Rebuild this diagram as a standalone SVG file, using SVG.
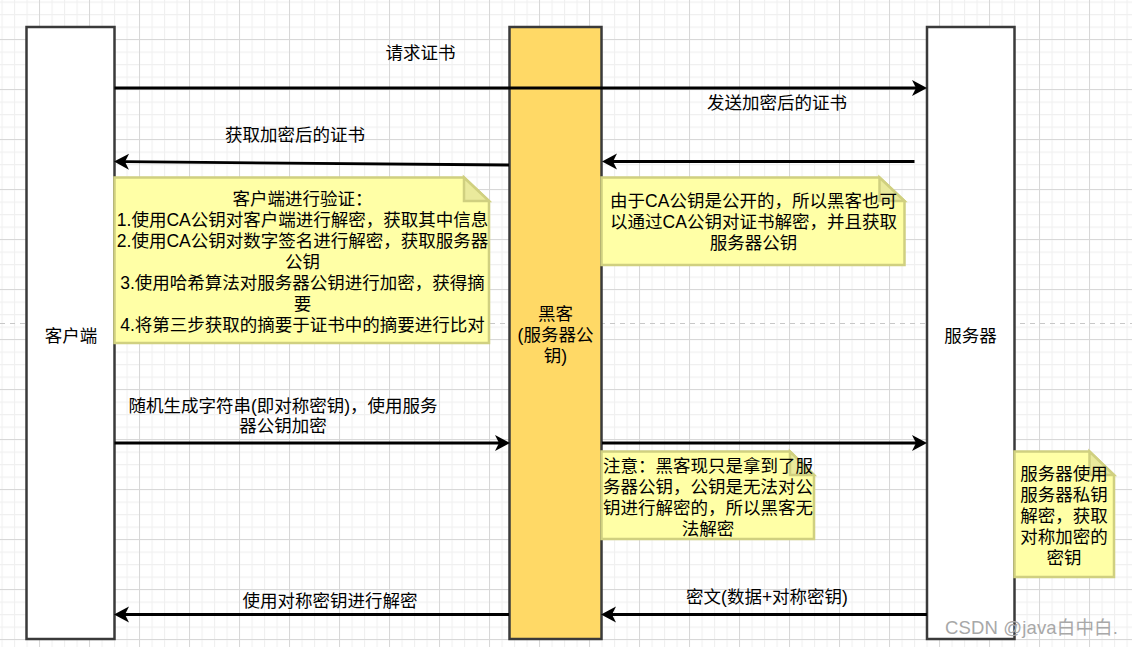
<svg xmlns="http://www.w3.org/2000/svg" width="1132" height="647" viewBox="0 0 1132 647">
<style>
text{font-family:"Liberation Sans","Noto Sans CJK SC",sans-serif;font-size:17.5px;fill:#000;text-anchor:middle}
.life{stroke:#3a3a3a;stroke-width:2.5;fill:#fff}
.hack{fill:#ffd966}
.note{fill:#ffffa6;stroke:#d0d080;stroke-width:2.5;stroke-linejoin:miter}
.fold{fill:#eaea9c;stroke:#d0d080;stroke-width:2.5}
.conn{fill:none;stroke:#000;stroke-width:2.8;marker-end:url(#arrow)}
.wm{font-size:18.5px;fill:#a8a8a8;text-anchor:start;letter-spacing:.15px}
</style>
<defs>
<pattern id="minor" width="12.5" height="12.5" patternUnits="userSpaceOnUse" x="1.5" y="1.5">
<path d="M.5 0V12.5M0 .5H12.5" fill="none" stroke="#f0f0f0" stroke-width="1.2"/>
</pattern>
<pattern id="major" width="50" height="50" patternUnits="userSpaceOnUse" x="39" y="39">
<path d="M.5 0V50M0 .5H50" fill="none" stroke="#d8d8d8" stroke-width="1"/>
</pattern>
<marker id="arrow" markerUnits="userSpaceOnUse" markerWidth="16" markerHeight="18" viewBox="0 0 15 18" refX="4" refY="9" orient="auto">
<path d="M0 1L15 9L0 17L4 9Z" fill="#000"/>
</marker>
</defs>
<g id="background">
<rect width="1132" height="647" fill="#fff"/>
<rect width="1132" height="647" fill="url(#minor)"/>
<rect width="1132" height="647" fill="url(#major)"/>
<path d="M0 323.5H1132" stroke="#c8c8c8" stroke-width="1" stroke-dasharray="5 5" fill="none"/>
</g>
<g id="client">
<rect class="life" x="26.5" y="27" width="88" height="612"/>
<text x="71" y="341.5">客户端</text>
</g>
<g id="hacker">
<rect class="life hack" x="509.5" y="27" width="92" height="612"/>
<text x="555.5"><tspan x="555.5" y="319.5">黑客</tspan><tspan x="555.5" y="340.5">(服务器公</tspan><tspan x="555.5" y="361.5">钥)</tspan></text>
</g>
<g id="server">
<rect class="life" x="927" y="27" width="87.5" height="612"/>
<text x="970.5" y="341.5">服务器</text>
</g>
<g id="connectors">
<path class="conn" d="M114.5 88H916"/>
<path class="conn" d="M509 165L125 161.7"/>
<path class="conn" d="M914.5 161.5H613"/>
<path class="conn" d="M114.5 443H499"/>
<path class="conn" d="M602 443H916"/>
<path class="conn" d="M927 614.5H612"/>
<path class="conn" d="M509 614.5H125"/>
<text x="420.5" y="58.5">请求证书</text>
<text x="777" y="108.5">发送加密后的证书</text>
<text x="295" y="140.5">获取加密后的证书</text>
<text><tspan x="283" y="411.5">随机生成字符串(即对称密钥)，使用服务</tspan><tspan x="283" y="432">器公钥加密</tspan></text>
<text x="767" y="603">密文(数据+对称密钥)</text>
<text x="330" y="606.5">使用对称密钥进行解密</text>
</g>
<g id="note-client">
<path class="note" d="M114.5 177.5H464L489 201V343H114.5Z"/>
<path class="fold" d="M464 177.5V201H489Z"/>
<text><tspan x="302.5" y="205">客户端进行验证：</tspan><tspan x="302.5" y="226">1.使用CA公钥对客户端进行解密，获取其中信息</tspan><tspan x="302.5" y="247">2.使用CA公钥对数字签名进行解密，获取服务器</tspan><tspan x="302.5" y="268">公钥</tspan><tspan x="302.5" y="289">3.使用哈希算法对服务器公钥进行加密，获得摘</tspan><tspan x="302.5" y="310">要</tspan><tspan x="302.5" y="331">4.将第三步获取的摘要于证书中的摘要进行比对</tspan></text>
</g>
<g id="note-hacker">
<path class="note" d="M601.5 177.5H879.5L904.5 201V265H601.5Z"/>
<path class="fold" d="M879.5 177.5V201H904.5Z"/>
<text><tspan x="753.5" y="207">由于CA公钥是公开的，所以黑客也可</tspan><tspan x="753.5" y="228">以通过CA公钥对证书解密，并且获取</tspan><tspan x="753.5" y="249">服务器公钥</tspan></text>
</g>
<g id="note-warning">
<path class="note" d="M601.5 451.5H790L814 475V539H601.5Z"/>
<path class="fold" d="M790 451.5V475H814Z"/>
<text><tspan x="708" y="472">注意：黑客现只是拿到了服</tspan><tspan x="708" y="493">务器公钥，公钥是无法对公</tspan><tspan x="708" y="514">钥进行解密的，所以黑客无</tspan><tspan x="708" y="535">法解密</tspan></text>
</g>
<g id="note-server">
<path class="note" d="M1014.5 451.5H1089.5L1114 475V577H1014.5Z"/>
<path class="fold" d="M1089.5 451.5V475H1114Z"/>
<text><tspan x="1064" y="480">服务器使用</tspan><tspan x="1064" y="501">服务器私钥</tspan><tspan x="1064" y="522">解密，获取</tspan><tspan x="1064" y="543">对称加密的</tspan><tspan x="1064" y="564">密钥</tspan></text>
</g>
<text class="wm" x="945" y="633.5">CSDN @java白中白.</text>
</svg>
